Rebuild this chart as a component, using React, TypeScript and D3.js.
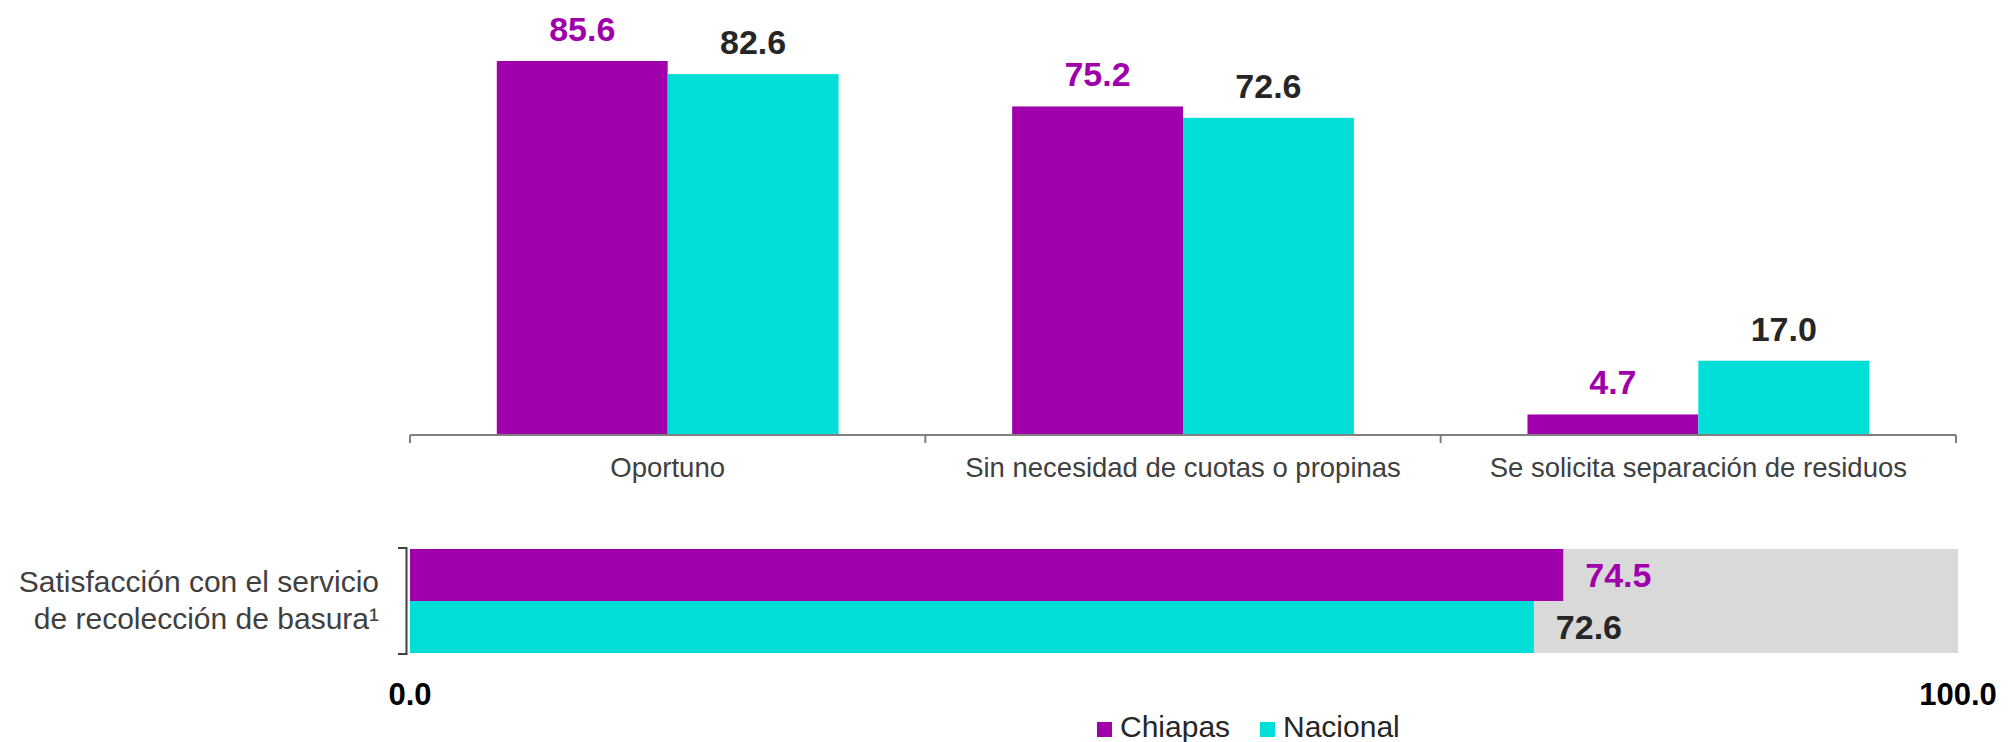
import React from "react";
import * as d3 from "d3";

const categories = [
  "Oportuno",
  "Sin necesidad de cuotas o propinas",
  "Se solicita separación de residuos",
];
const series = ["Chiapas", "Nacional"];
const chiapasValues = [85.6, 75.2, 4.7];
const nacionalValues = [82.6, 72.6, 17.0];
const satisfactionLabel = ["Satisfacción con el servicio", "de recolección de basura¹"];
const satisfactionValues = [74.5, 72.6];
const bottomTicks = [0, 100];

const COLORS: Record<string, string> = { Chiapas: "#A000AC", Nacional: "#00DED8" };
const LABEL_COLORS: Record<string, string> = { Chiapas: "#A000AC", Nacional: "#262626" };
const FONT = "'Liberation Sans', Arial, sans-serif";

export default function App() {
  const W = 2011;
  const H = 742;

  // top chart
  const x0 = d3.scaleBand<string>().domain(categories).range([410, 1956]).paddingInner(0).paddingOuter(0);
  const x1 = d3.scaleBand<string>().domain(series).range([0, x0.bandwidth()]).paddingInner(0).paddingOuter(0.508);
  const y = d3.scaleLinear().domain([0, 100]).range([435, -1.9]);
  const valuesBySeries: Record<string, number[]> = { Chiapas: chiapasValues, Nacional: nacionalValues };
  const tickXs = [...categories.map((c) => x0(c) as number), 1956];

  // bottom chart
  const xb = d3.scaleLinear().domain([0, 100]).range([410, 1958]);
  const yb = d3.scaleBand<string>().domain(series).range([549, 653]).padding(0);

  return (
    <div style={{ position: "absolute", left: 0, top: 0 }}>
      <svg width={W} height={H} style={{ display: "block", background: "#fff" }} fontFamily={FONT}>
        {/* top bars */}
        {categories.map((c, i) => (
          <g key={c} transform={`translate(${x0(c)},0)`}>
            {series.map((s) => {
              const v = valuesBySeries[s][i];
              const bx = x1(s) as number;
              return (
                <g key={s}>
                  <rect x={bx} y={y(v)} width={x1.bandwidth()} height={y(0) - y(v)} fill={COLORS[s]} />
                  <text
                    x={bx + x1.bandwidth() / 2}
                    y={y(v) - 20}
                    textAnchor="middle"
                    fontSize={34}
                    fontWeight="bold"
                    fill={LABEL_COLORS[s]}
                  >
                    {v.toFixed(1)}
                  </text>
                </g>
              );
            })}
            <text
              x={x0.bandwidth() / 2}
              y={477}
              textAnchor="middle"
              fontSize={27.5}
              fill="#404040"
            >
              {c}
            </text>
          </g>
        ))}
        {/* top axis */}
        <line x1={410} x2={1956} y1={y(0)} y2={y(0)} stroke="#808080" strokeWidth={2} />
        {tickXs.map((tx, i) => (
          <line key={i} x1={tx} x2={tx} y1={y(0)} y2={y(0) + 8} stroke="#808080" strokeWidth={2} />
        ))}

        {/* bottom chart */}
        <rect x={xb(0)} y={549} width={xb(100) - xb(0)} height={653 - 549} fill="#D9D9D9" />
        {series.map((s, i) => {
          const v = satisfactionValues[i];
          const by = yb(s) as number;
          return (
            <g key={s}>
              <rect x={xb(v) - (xb(v) - xb(0))} y={by} width={xb(v) - xb(0)} height={yb.bandwidth()} fill={COLORS[s]} />
              <text
                x={xb(v) + 22}
                y={by + yb.bandwidth() / 2 + 12}
                fontSize={34}
                fontWeight="bold"
                fill={LABEL_COLORS[s]}
              >
                {v.toFixed(1)}
              </text>
            </g>
          );
        })}
        {/* bracket axis */}
        <path d={`M398,548 H406.5 V654 H398`} fill="none" stroke="#404040" strokeWidth={2} />
        {satisfactionLabel.map((t, i) => (
          <text key={i} x={379} y={592 + i * 36.5} textAnchor="end" fontSize={30} fill="#404040">
            {t}
          </text>
        ))}
        {bottomTicks.map((t) => (
          <text key={t} x={xb(t)} y={705} textAnchor="middle" fontSize={31} fontWeight="bold" fill="#000">
            {t.toFixed(1)}
          </text>
        ))}

        {/* legend */}
        {series.map((s, i) => {
          const lx = [1097, 1260][i];
          return (
            <g key={s}>
              <rect x={lx} y={722} width={15} height={15} fill={COLORS[s]} />
              <text x={lx + 23} y={737} fontSize={30} fill="#262626">
                {s}
              </text>
            </g>
          );
        })}
      </svg>
    </div>
  );
}
